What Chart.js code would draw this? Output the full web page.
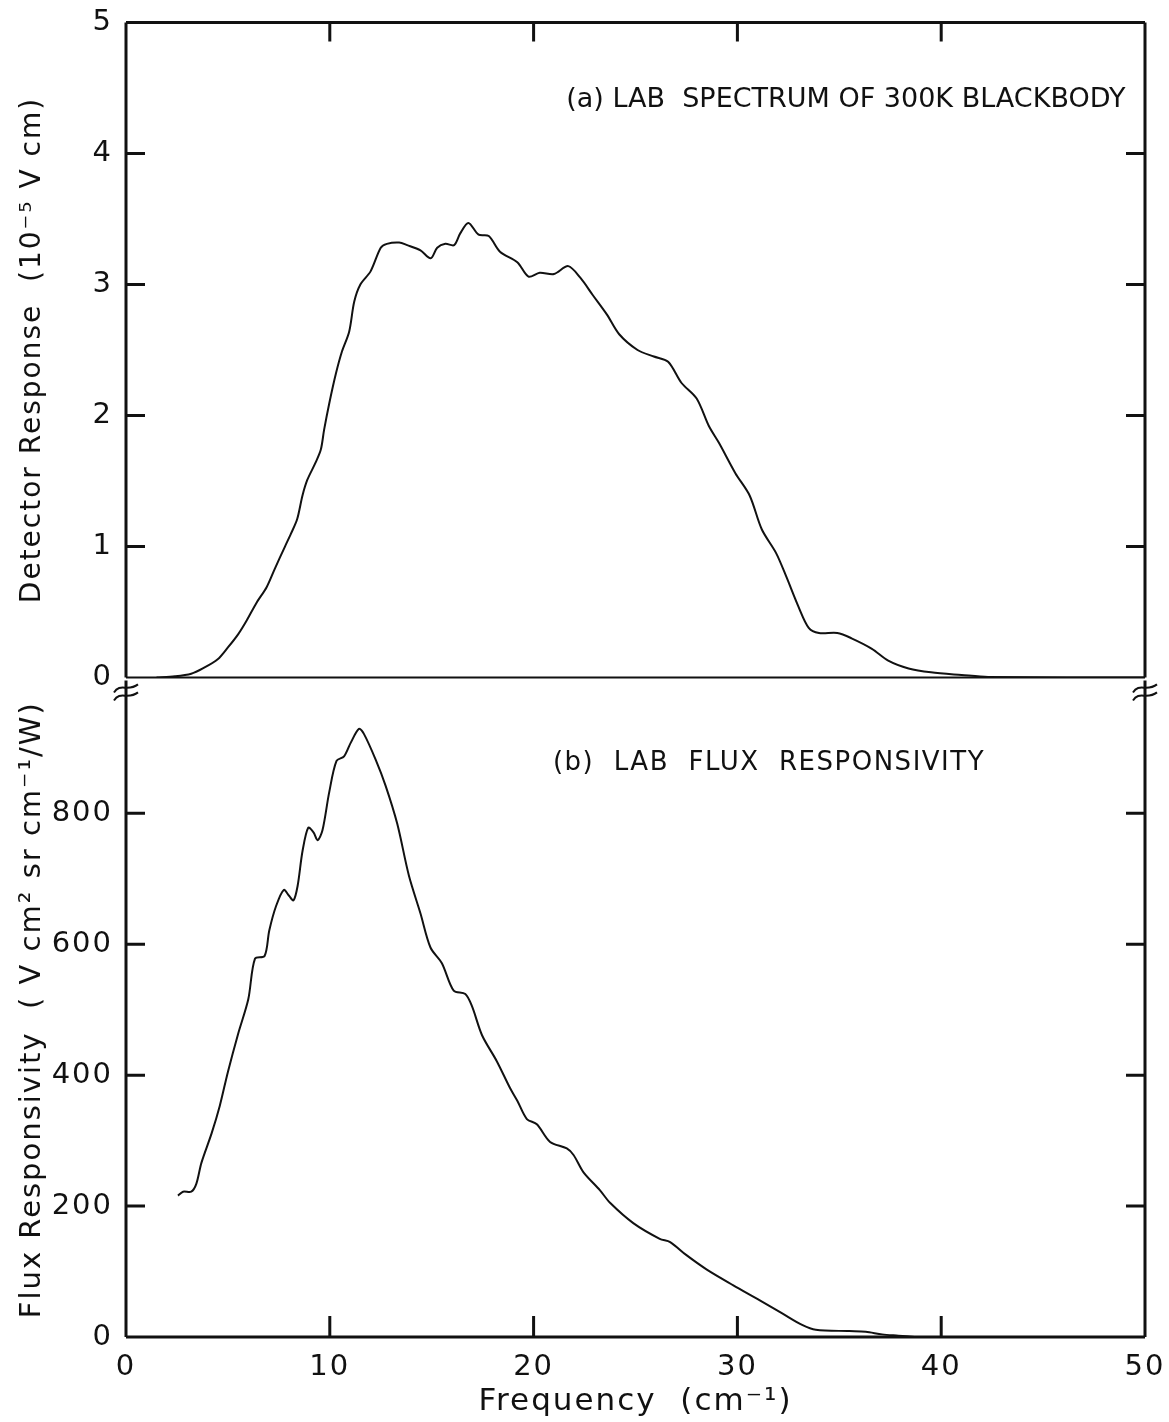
<!DOCTYPE html>
<html>
<head>
<meta charset="utf-8">
<script src="https://cdn.jsdelivr.net/npm/chart.js@4.4.1/dist/chart.umd.min.js"></script>
<style>
    body { margin: 0; background: #fff; }
    #wrap { position: relative; width: 1169px; height: 1422px; }
    #top-canvas { position: absolute; left: 0; top: 0; }
    #bottom-canvas { position: absolute; left: 0; top: 660px; }
</style>
</head>
<body>
<div id="wrap">
    <canvas id="top-canvas" width="1169" height="700"></canvas>
    <canvas id="bottom-canvas" width="1169" height="762"></canvas>
</div>
<script>
// Panneau (a) : spectre labo d'un corps noir 300K
const topFreq = [1.5, 2.4, 3.2, 3.77, 4.5, 5.0, 5.5, 5.9, 6.4, 6.9, 7.3, 7.8, 8.1, 8.4, 8.66, 8.9, 9.3, 9.56, 9.72, 9.97,
    10.3, 10.6, 10.95, 11.2, 11.5, 12.0, 12.5, 12.8, 13.4, 13.8, 14.45, 14.95, 15.27, 15.67, 16.1, 16.4, 16.8, 17.3, 17.8, 18.35,
    19.2, 19.75, 20.3, 21.0, 21.7, 22.3, 22.9, 23.6, 24.2, 25.1, 25.9, 26.6, 27.25, 28.0, 28.6, 29.1, 29.9, 30.6,
    31.2, 31.9, 32.4, 33.0, 33.5, 34.0, 34.9, 35.6, 36.6, 37.4, 38.4, 39.5, 41.0, 42.3, 50];
const topResponse = [0, 0.01, 0.03, 0.07, 0.14, 0.23, 0.33, 0.43, 0.57, 0.69, 0.83, 1.0, 1.1, 1.21, 1.39, 1.51, 1.64, 1.74, 1.89, 2.09,
    2.32, 2.49, 2.64, 2.87, 3.0, 3.1, 3.28, 3.31, 3.32, 3.30, 3.26, 3.20, 3.28, 3.31, 3.30, 3.39, 3.47, 3.38, 3.37, 3.25,
    3.17, 3.06, 3.09, 3.08, 3.14, 3.05, 2.92, 2.77, 2.62, 2.5, 2.45, 2.41, 2.25, 2.13, 1.92, 1.79, 1.56, 1.39,
    1.13, 0.95, 0.77, 0.54, 0.38, 0.34, 0.34, 0.30, 0.22, 0.13, 0.07, 0.04, 0.02, 0.005, 0];

// Panneau (b) : responsivité en flux
const fluxFreq = [2.55, 2.8, 3.2, 3.45, 3.7, 4.2, 4.6, 5.0, 5.5, 6.0, 6.33, 6.8, 7.03, 7.36, 7.74, 8.0, 8.22, 8.42, 8.66, 8.94,
    9.2, 9.4, 9.64, 9.97, 10.33, 10.7, 11.03, 11.43, 11.68, 12.25, 12.74, 13.31, 13.88, 14.45, 14.94, 15.5, 16.08, 16.65,
    16.98, 17.47, 18.2, 18.85, 19.2, 19.67, 20.16, 20.81, 21.63, 21.96, 22.44, 23.26, 23.75, 24.89, 26.19, 26.7, 27.5,
    28.5, 29.8, 31.1, 32.2, 33.2, 33.85, 35.5, 36.3, 37.1, 37.9, 38.7];
const fluxResp = [216, 222, 222, 234, 266, 311, 353, 405, 463, 516, 578, 582, 621, 658, 683, 674, 667, 689, 742, 778,
    771, 759, 774, 832, 880, 887, 908, 929, 921, 882, 842, 784, 705, 647, 595, 571, 529, 524,
    505, 461, 421, 380, 361, 333, 325, 298, 288, 278, 252, 224, 205, 174, 150, 145, 125,
    103, 79, 56, 36, 18, 11, 9, 8, 4, 2, 0];

// Graduations
const freqTicks = [10, 20, 30, 40];
const topTicks = [1, 2, 3, 4];
const fluxTicks = [200, 400, 600, 800];

const FONT = "'DejaVu Sans', sans-serif";
const INK = '#111';

// Cadre + graduations tournées vers l'intérieur
const frameTicks = {
    id: 'frameTicks',
    beforeDraw(chart) {
        chart.ctx.letterSpacing = '2px';
    },
    afterDraw(chart, args, opts) {
        const ctx = chart.ctx;
        const a = chart.chartArea;
        const x = chart.scales.x;
        const y = chart.scales.y;
        ctx.save();
        ctx.strokeStyle = INK;
        ctx.lineCap = 'butt';

        ctx.lineWidth = 3;
        ctx.beginPath();
        ctx.moveTo(a.left, opts.top ? a.top : a.top - 2);
        ctx.lineTo(a.left, a.bottom);
        ctx.moveTo(a.right, opts.top ? a.top : a.top - 2);
        ctx.lineTo(a.right, a.bottom);
        if (opts.top) {
            ctx.moveTo(a.left, a.top);
            ctx.lineTo(a.right, a.top);
        }
        ctx.stroke();

        ctx.lineWidth = opts.top ? 2 : 3;
        ctx.beginPath();
        ctx.moveTo(a.left, a.bottom);
        ctx.lineTo(a.right, a.bottom);
        ctx.stroke();

        ctx.lineWidth = 3;
        ctx.beginPath();
        opts.xTicks.forEach(function(v) {
            const px = x.getPixelForValue(v);
            if (opts.top) {
                ctx.moveTo(px, a.top);
                ctx.lineTo(px, a.top + 19);
            } else {
                ctx.moveTo(px, a.bottom);
                ctx.lineTo(px, a.bottom - 21);
            }
        });
        opts.yTicks.forEach(function(v) {
            const py = y.getPixelForValue(v);
            ctx.moveTo(a.left, py);
            ctx.lineTo(a.left + 19, py);
            ctx.moveTo(a.right, py);
            ctx.lineTo(a.right - 19, py);
        });
        ctx.stroke();

        // Symbole de coupure d'axe
        if (opts.breakMark) {
            ctx.lineWidth = 2;
            [a.left, a.right].forEach(function(ax) {
                [a.top + 6, a.top + 14].forEach(function(by) {
                    ctx.beginPath();
                    ctx.moveTo(ax - 12, by + 4);
                    ctx.bezierCurveTo(ax - 6, by - 6, ax + 2, by + 4, ax + 12, by - 4);
                    ctx.stroke();
                });
            });
        }
        ctx.letterSpacing = '0px';
        ctx.restore();
    }
};

// Texte des panneaux
const panelLabel = {
    id: 'panelLabel',
    afterDraw(chart, args, opts) {
        const ctx = chart.ctx;
        ctx.save();
        ctx.letterSpacing = opts.spacing;
        ctx.font = opts.size + 'px ' + FONT;
        ctx.fillStyle = INK;
        ctx.textBaseline = 'middle';
        ctx.textAlign = 'left';
        ctx.fillText(opts.text, chart.scales.x.getPixelForValue(opts.x), chart.scales.y.getPixelForValue(opts.y));
        ctx.restore();
    }
};

function leftAxisWidth(scale) {
    scale.width = 126;
}

// Graphique du haut
new Chart(document.getElementById('top-canvas'), {
    type: 'line',
    data: {
        datasets: [{
            data: topFreq.map(function(f, i) { return { x: f, y: topResponse[i] }; }),
            borderColor: INK,
            borderWidth: 2,
            pointRadius: 0,
            tension: 0.3,
            fill: false
        }]
    },
    options: {
        responsive: false,
        animation: false,
        events: [],
        layout: { padding: { left: 0, right: 24, top: 22, bottom: 20 } },
        scales: {
            x: { type: 'linear', min: 0, max: 50, display: false },
            y: {
                type: 'linear', min: 0, max: 5,
                afterFit: leftAxisWidth,
                grid: { display: false },
                border: { display: false },
                ticks: { stepSize: 1, padding: 5, color: INK, font: { family: FONT, size: 29 } },
                title: {
                    display: true,
                    text: 'Detector Response  (10\u207B\u2075 V cm)',
                    color: INK,
                    font: { family: FONT, size: 28 },
                    padding: { top: 16, bottom: 0 }
                }
            }
        },
        plugins: {
            legend: { display: false },
            tooltip: { enabled: false },
            frameTicks: { top: true, xTicks: freqTicks, yTicks: topTicks, breakMark: false },
            panelLabel: { text: '(a) LAB  SPECTRUM OF 300K BLACKBODY', x: 21.6, y: 4.41, size: 27, spacing: '0px' }
        }
    },
    plugins: [frameTicks, panelLabel]
});

// Graphique du bas
new Chart(document.getElementById('bottom-canvas'), {
    type: 'line',
    data: {
        datasets: [{
            data: fluxFreq.map(function(f, i) { return { x: f, y: fluxResp[i] }; }),
            borderColor: INK,
            borderWidth: 2,
            pointRadius: 0,
            tension: 0.3,
            fill: false
        }]
    },
    options: {
        responsive: false,
        animation: false,
        events: [],
        layout: { padding: { left: 0, right: 24, top: 19, bottom: 0 } },
        scales: {
            x: {
                type: 'linear', min: 0, max: 50,
                afterFit: function(scale) { scale.height = 85; },
                grid: { display: false },
                border: { display: false },
                ticks: { stepSize: 10, padding: 5, color: INK, font: { family: FONT, size: 29 } },
                title: {
                    display: true,
                    text: 'Frequency  (cm\u207B\u00B9)',
                    color: INK,
                    font: { family: FONT, size: 31 },
                    padding: { top: 0, bottom: 1 }
                }
            },
            y: {
                type: 'linear', min: 0, max: 1000,
                afterFit: leftAxisWidth,
                grid: { display: false },
                border: { display: false },
                ticks: {
                    stepSize: 200, padding: 5, color: INK, font: { family: FONT, size: 29 },
                    callback: function(v) { return v >= 1000 ? '' : v; }
                },
                title: {
                    display: true,
                    text: 'Flux Responsivity  ( V cm\u00B2 sr cm\u207B\u00B9/W)',
                    color: INK,
                    font: { family: FONT, size: 29 },
                    padding: { top: 15, bottom: 0 }
                }
            }
        },
        plugins: {
            legend: { display: false },
            tooltip: { enabled: false },
            frameTicks: { top: false, xTicks: freqTicks, yTicks: fluxTicks, breakMark: true },
            panelLabel: { text: '(b)  LAB  FLUX  RESPONSIVITY', x: 20.95, y: 876, size: 26, spacing: '1.5px' }
        }
    },
    plugins: [frameTicks, panelLabel]
});
</script>
</body>
</html>
